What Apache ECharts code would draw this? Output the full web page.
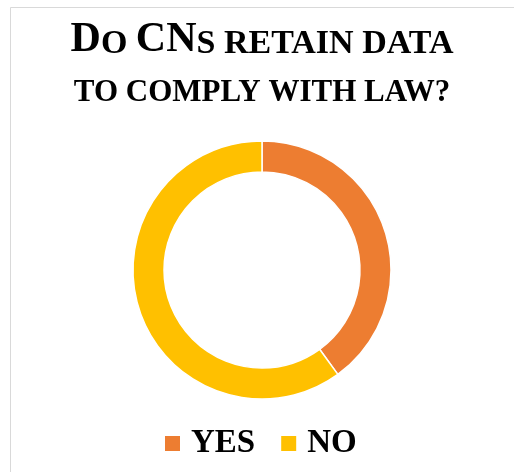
<!DOCTYPE html>
<html>
<head>
<meta charset="utf-8">
<script src="https://cdn.jsdelivr.net/npm/echarts@6/dist/echarts.min.js"></script>
<style>
  html, body { margin: 0; padding: 0; background: #fff; }
  #chart { width: 514px; height: 472px; }
</style>
</head>
<body>
<div id="chart"></div>
<script>
// Survey answers
const categories = ['YES', 'NO'];
const shares = [40, 60];
const colors = ['#ED7D31', '#FFC000'];

const serif = "'Liberation Serif', 'DejaVu Serif', serif";

const chart = echarts.init(document.getElementById('chart'));

// Small-caps heading: full capitals in "c", small capitals in "s" (first line) and "t" (second line)
const base = { fontFamily: serif, fontWeight: 'bold', color: '#000', lineHeight: 47, verticalAlign: 'bottom' };

chart.setOption({
  backgroundColor: '#ffffff',
  animation: false,
  title: {
    left: 257,
    textAlign: 'center',
    top: 9,
    text: '{c|D}{s|O }{c|CN}{s|S RETAIN DATA}\n{t|TO COMPLY WITH LAW?}',
    textStyle: {
      align: 'center',
      rich: {
        c: Object.assign({}, base, { fontSize: 42 }),
        s: Object.assign({}, base, { fontSize: 34 }),
        t: Object.assign({}, base, { fontSize: 31 })
      }
    }
  },
  legend: {
    bottom: 7,
    left: 158,
    itemWidth: 17,
    itemHeight: 17,
    itemGap: 24,
    icon: 'rect',
    textStyle: { fontFamily: serif, fontWeight: 'bold', fontSize: 33, color: '#000', padding: [0, 0, 0, 5] },
    data: categories
  },
  graphic: [{
    type: 'rect',
    shape: { x: 10.5, y: 7.5, width: 520, height: 480 },
    style: { fill: 'none', stroke: '#d9d9d9', lineWidth: 1 },
    silent: true
  }],
  series: [{
    type: 'pie',
    center: [262, 270],
    radius: [98, 129],
    startAngle: 90,
    clockwise: true,
    label: { show: false },
    labelLine: { show: false },
    itemStyle: { borderColor: '#ffffff', borderWidth: 1.5 },
    data: categories.map((name, i) => ({ name, value: shares[i], itemStyle: { color: colors[i] } }))
  }]
});
</script>
</body>
</html>
